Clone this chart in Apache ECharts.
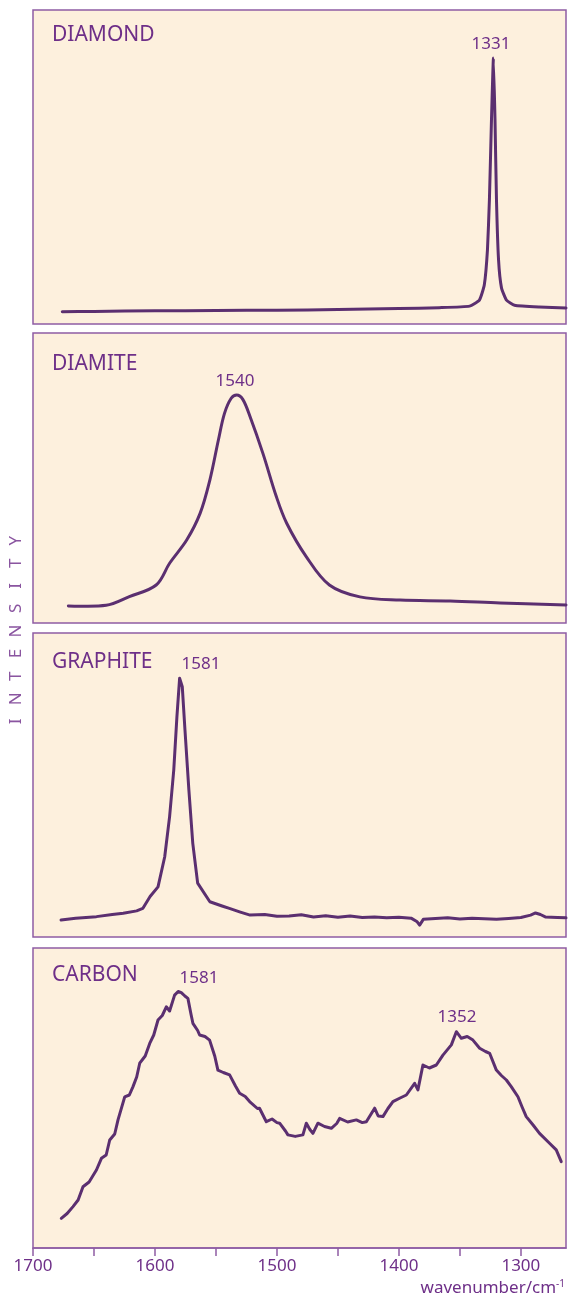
<!DOCTYPE html>
<html>
<head>
<meta charset="utf-8">
<script src="https://cdn.jsdelivr.net/npm/echarts@6.0.0/dist/echarts.min.js"></script>
<style>
html,body{margin:0;padding:0;background:#ffffff;}
#chart{width:568px;height:1301px;}
</style>
</head>
<body>
<div id="chart"></div>
<script>
// ---- data (wavenumber / cm-1 vs relative intensity, 0..100 of panel height) ----
var panelNames = ['DIAMOND', 'DIAMITE', 'GRAPHITE', 'CARBON'];
var peakLabels = [['1331'], ['1540'], ['1581'], ['1581', '1352']];
var xTickValues = [1300, 1350, 1400, 1450, 1500, 1550, 1600, 1650, 1700];
var xLabelValues = [1300, 1400, 1500, 1600, 1700];
var yLabel = 'INTENSITY';
var xTitle = 'wavenumber/cm';

var diamondW = [1676,1650,1600,1550,1500,1450,1400,1367,1342,1334,1330,1327.4,1325.8,1324.1,1322.5,1321.2,1320,1318.3,1315.9,1311.8,1305.2,1285,1263];
var diamondI = [3.9,4.0,4.2,4.3,4.4,4.6,4.9,5.2,5.7,7.6,12.4,23.6,39.5,65,84.7,65,39.5,20.4,11.5,7.6,6.0,5.4,5.1];

var diamiteW = [1671,1655,1640,1621,1599,1588,1574,1563,1555,1548,1543,1537.5,1533,1528,1522,1511.5,1500.5,1492,1476,1457,1432,1399,1358,1317,1263];
var diamiteI = [5.9,5.8,6.1,9.1,13.1,20.6,28.6,37.8,49.3,63.1,72.3,77.5,78.6,77.1,71.1,58.5,43.6,34.4,22.9,13.1,9.0,7.9,7.6,6.9,6.2];

var graphiteW = [1677,1665,1648,1635,1626,1615,1610,1604,1597.5,1592,1588,1584.6,1582,1579.8,1577.6,1575.4,1572.2,1569,1565,1555,1545,1539,1530,1522,1510,1500,1490,1480,1470,1460,1450,1440,1430,1420,1410,1400,1390,1385,1383,1380,1370,1360,1350,1340,1330,1320,1310,1300,1292,1288,1284,1280,1270,1263];
var graphiteI = [5.6,6.2,6.7,7.4,7.8,8.6,9.4,13.3,16.5,26.4,39.6,54.9,72.5,85.1,82.3,68.1,48.4,30.8,17.7,11.6,10.2,9.4,8.2,7.2,7.4,6.8,6.9,7.3,6.6,7.0,6.5,6.9,6.4,6.6,6.3,6.5,6.2,5.0,3.9,5.8,6.1,6.3,5.9,6.2,6.0,5.8,6.1,6.4,7.2,7.9,7.4,6.6,6.4,6.3];

var carbonW = [1676.8,1672,1667.2,1663,1659,1654,1648,1643.9,1640,1637.1,1633,1630.3,1624.8,1621,1618,1615,1612.5,1608,1604.3,1601,1597.5,1594,1590.7,1588,1586.6,1583.9,1581,1578.4,1575.5,1573,1570.5,1568.9,1565,1563.4,1559,1555.2,1551,1548.4,1544,1538.8,1534,1530.6,1526,1522.4,1516,1514.3,1508.7,1504,1500,1497.8,1493,1491,1485,1478.7,1475.9,1473,1470.5,1466.4,1461,1455.4,1451,1448.6,1442,1434.9,1430,1426.7,1419.9,1417,1413.1,1409,1404.9,1399,1393.9,1387.1,1384.4,1380.3,1375,1369.3,1363.9,1357,1352.9,1348.8,1344,1339.3,1333.8,1329,1325.6,1320.1,1316,1311.9,1307.9,1302.4,1299,1295.6,1290,1284.7,1276.5,1271,1266.9];
var carbonI = [9.9,11.5,13.8,16,20.4,22,26,29.9,31,36,38,42.7,50.4,51,53.8,57,61.6,64,68.2,71,76,77.5,80.4,79,79.3,84.3,85.5,85.1,84,83.2,78,74.9,72.5,71,70.5,69.3,64,59.3,58.5,57.7,54,51.6,50.5,48.8,46.5,46.6,42.1,43,41.8,41.6,39,37.7,37.2,37.7,41.6,39.5,38.2,41.6,40.5,39.9,41.5,43.2,42,42.7,41.8,42.1,46.6,44,43.8,46.5,48.8,50,51,54.9,52.7,61,60,61,64.3,67.7,72.1,69.9,70.5,69.3,66.6,65.5,64.9,59.3,57.5,56,53.8,50.4,47,43.8,41,38.2,34.9,32.7,28.8];

function zip(a, b) { return a.map(function (v, i) { return [v, b[i]]; }); }
var seriesData = [zip(diamondW, diamondI), zip(diamiteW, diamiteI), zip(graphiteW, graphiteI), zip(carbonW, carbonI)];

// ---- style / layout ----
var BG = '#fdf0dd', BORDER = '#8e5ca4', TXT = '#6e2f88', LINE = '#5b2f70', FONT = '"Noto Sans", sans-serif';
var panels = [
  {top: 10, height: 314},
  {top: 333, height: 290},
  {top: 633, height: 304},
  {top: 948, height: 300}
];
var smoothness = [0.15, 0.35, 0, 0];
var XMIN = 1263, XMAX = 1700;

var grids = [], xAxes = [], yAxes = [], series = [];
panels.forEach(function (p, i) {
  grids.push({left: 33, right: 2, top: p.top, height: p.height, show: true,
    backgroundColor: BG, borderColor: BORDER, borderWidth: 1.5, containLabel: false, outerBoundsMode: 'none'});
  var last = i === panels.length - 1;
  xAxes.push({type: 'value', gridIndex: i, min: XMIN, max: XMAX, inverse: true,
    show: last, splitLine: {show: false},
    axisLine: {show: last, onZero: false, lineStyle: {color: BORDER, width: 1.5}},
    axisTick: {show: last, length: 8, customValues: xTickValues, lineStyle: {color: BORDER, width: 1.5}},
    axisLabel: {show: last, customValues: xLabelValues, margin: 10, color: TXT, fontSize: 17, fontFamily: FONT,
      formatter: function (v) { return String(v); }}
  });
  yAxes.push({type: 'value', gridIndex: i, min: 0, max: 100, show: false, splitLine: {show: false}});
  series.push({type: 'line', xAxisIndex: i, yAxisIndex: i, data: seriesData[i], showSymbol: false,
    symbol: 'none', smooth: smoothness[i], animation: false,
    lineStyle: {color: LINE, width: 3, cap: 'round', join: 'round'}});
});

var graphics = [];
var nameY = [35.5, 364.5, 661.8, 974.6];
panelNames.forEach(function (n, i) {
  graphics.push({type: 'text', x: 52, y: nameY[i],
    style: {text: n, fill: TXT, font: '21px ' + FONT, textAlign: 'left', textVerticalAlign: 'middle'}});
});
var peakPos = [[[491, 44]], [[235, 381]], [[201, 664]], [[199, 978], [457, 1017]]];
peakLabels.forEach(function (arr, i) {
  arr.forEach(function (t, j) {
    graphics.push({type: 'text', x: peakPos[i][j][0], y: peakPos[i][j][1],
      style: {text: t, fill: TXT, font: '17px ' + FONT, textAlign: 'center', textVerticalAlign: 'middle'}});
  });
});
// y axis title, spaced letters reading bottom to top
var letters = yLabel.split('').map(function (c, k) {
  return {type: 'text', x: (k - 4) * 22.6, y: 0,
    style: {text: c, fill: '#8a55a0', font: '17px ' + FONT, textAlign: 'center', textVerticalAlign: 'middle'}};
});
graphics.push({type: 'group', x: 16, y: 631, rotation: Math.PI / 2, children: letters});
// x axis title with superscript
graphics.push({type: 'text', x: 565, y: 1288,
  style: {text: '{a|' + xTitle + '}{b|-1}', textAlign: 'right', textVerticalAlign: 'middle',
    rich: {a: {fill: TXT, fontSize: 17, fontFamily: FONT, verticalAlign: 'bottom'},
           b: {fill: TXT, fontSize: 10, fontFamily: FONT, verticalAlign: 'top', padding: [0, 0, 8, 0]}}}});

var chart = echarts.init(document.getElementById('chart'), null, {renderer: 'canvas'});
chart.setOption({
  animation: false,
  backgroundColor: '#ffffff',
  grid: grids, xAxis: xAxes, yAxis: yAxes, series: series,
  graphic: graphics
});
</script>
</body>
</html>
